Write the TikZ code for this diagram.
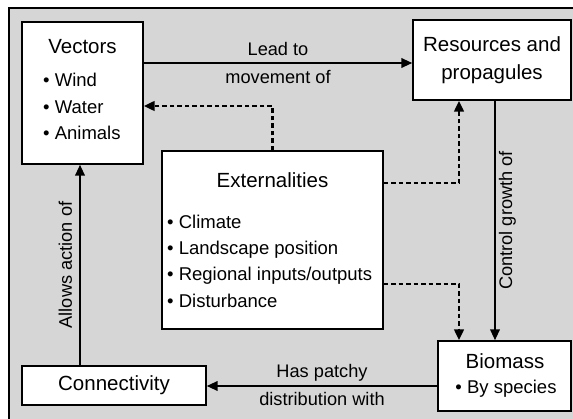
\documentclass[tikz,border=0pt]{standalone}
\usepackage{fontspec}
\setmainfont{Liberation Sans}
\usetikzlibrary{arrows.meta, positioning}
\definecolor{bggray}{RGB}{214,214,214}

\begin{document}
\begin{tikzpicture}[
  x=1pt, y=-1pt,
  box/.style={rectangle, draw, fill=white, line width=1.4pt, inner sep=0pt},
  title/.style={font=\fontsize{20.5}{28}\selectfont, align=center, inner sep=0pt},
  items/.style={font=\fontsize{18.5}{26.3}\selectfont, align=left, inner sep=0pt, anchor=west},
  lbl/.style={font=\fontsize{18.2}{22}\selectfont, inner sep=0pt},
  arrow/.style={-{Triangle[length=11pt, width=9.5pt]}, line width=2.2pt},
  dotarrow/.style={-{Triangle[length=11pt, width=9.5pt]}, line width=2.8pt, dash pattern=on 4.5pt off 3pt}
]

% frame
\useasboundingbox (0,0) rectangle (573,419);
\fill[white] (0,0) rectangle (573,419);
\fill[bggray] (9,8) rectangle (573,419);
\draw[line width=1.5pt] (9,419) -- (9,8) -- (573,8);

% boxes
\node[box, minimum width=121pt, minimum height=142pt] (vec) at (82.5,93) {};
\node[box, title, minimum width=158pt, minimum height=80pt] (res) at (492,60) {Resources and\\propagules};
\node[box, minimum width=221pt, minimum height=178pt] (ext) at (272.5,240) {};
\node[box, title, minimum width=184pt, minimum height=39pt] (conn) at (114,385.5) {Connectivity};
\node[box, minimum width=133pt, minimum height=70pt] (bio) at (504.5,376) {};

% box contents
\node[title] (vectitle) at (82.5,47) {Vectors};
\node[items] (veclist) at (43,106.5) {\textbullet\ Wind\\\textbullet\ Water\\\textbullet\ Animals};
\node[title] (exttitle) at (272.5,180) {Externalities};
\node[items] (extlist) at (167,261) {\textbullet\ Climate\\\textbullet\ Landscape position\\\textbullet\ Regional inputs/outputs\\\textbullet\ Disturbance};
\node[title] (biotitle) at (505,361) {Biomass};
\node[items, anchor=center] (biolist) at (506,389) {\textbullet\ By species};

% helper points
\coordinate (lead) at ([yshift=-3pt]res.west);
\coordinate (ctrl) at ([xshift=3pt]res.south);
\coordinate (allow) at ([xshift=-34pt]conn.north);
\coordinate (patch) at ([yshift=-10pt]bio.west);
\coordinate (extvec) at ([yshift=-13pt]vec.east);
\coordinate (extres) at ([yshift=57pt]ext.east);
\coordinate (extbio) at ([yshift=-44pt]ext.east);

% solid links
\draw[arrow] (lead -| vec.east) -- (lead)
  node[lbl, midway, above=6pt] {Lead to}
  node[lbl, midway, below=6pt] {movement of};
\draw[arrow] (ctrl) -- (ctrl |- bio.north)
  node[lbl, midway, rotate=90, anchor=north, outer sep=4pt] {Control growth of};
\draw[arrow] (patch) -- (patch -| conn.east)
  node[lbl, midway, above=4pt] {Has patchy}
  node[lbl, midway, below=5pt] {distribution with};
\draw[arrow] (allow) -- (allow |- vec.south)
  node[lbl, midway, rotate=90, anchor=south, outer sep=8pt] {Allows action of};

% dotted links
\draw[dotarrow] (ext.north) |- (extvec);
\draw[dotarrow] (extres) -| ([xshift=-33pt]res.south);
\draw[dotarrow] (extbio) -| ([xshift=-45.5pt]bio.north);

\end{tikzpicture}
\end{document}
